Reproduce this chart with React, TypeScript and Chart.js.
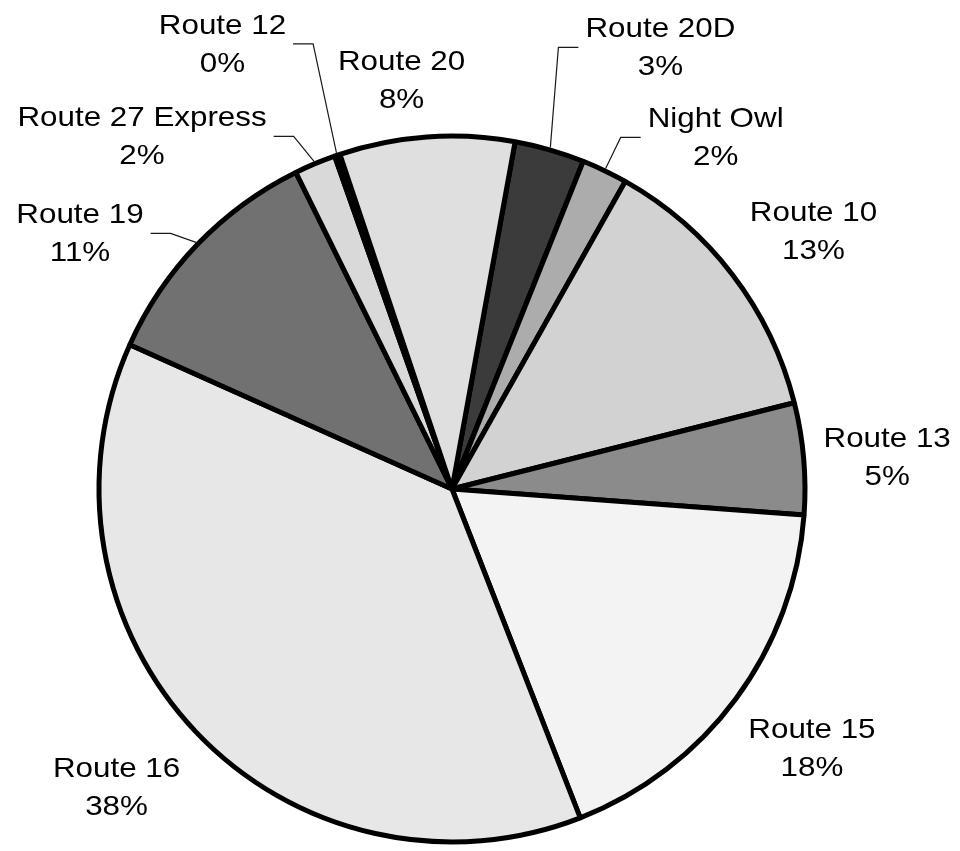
import { useEffect, useRef } from "react";
import { Chart, registerables } from "chart.js";

Chart.register(...registerables);

// Ridership share by route, listed clockwise starting just right of 12 o'clock
const routes = [
  "Route 20D",
  "Night Owl",
  "Route 10",
  "Route 13",
  "Route 15",
  "Route 16",
  "Route 19",
  "Route 27 Express",
  "Route 12",
  "Route 20",
];
const shares = [3.2, 2.1, 12.9, 5.1, 17.9, 37.6, 11.0, 1.9, 0.25, 8.0];
const sliceGrays = [
  "#3b3b3b",
  "#acacac",
  "#d2d2d2",
  "#8b8b8b",
  "#f3f3f3",
  "#e7e7e7",
  "#717171",
  "#d9d9d9",
  "#000000",
  "#dfdfdf",
];

// Where each label block sits relative to the outer middle of its slice
const labelPlacement = [
  { dx: 110, dy: -101, leader: true },
  { dx: 110, dy: -32, leader: true },
  { dx: 79, dy: -43, leader: false },
  { dx: 81, dy: -2, leader: false },
  { dx: 74, dy: 47, leader: false },
  { dx: -78, dy: 52, leader: false },
  { dx: -116, dy: -10, leader: true },
  { dx: -172, dy: -26, leader: true },
  { dx: -114, dy: -110, leader: true },
  { dx: -25, dy: -55, leader: false },
];

const BORDER = 5;
const FONT = "28px 'Liberation Sans', Arial, Helvetica, sans-serif";
const STRETCH = 1.12;

function drawStretched(ctx: CanvasRenderingContext2D, text: string, x: number, y: number) {
  ctx.save();
  ctx.translate(x, y);
  ctx.scale(STRETCH, 1);
  ctx.fillText(text, 0, 0);
  ctx.restore();
}

const sliceLabels = {
  id: "sliceLabels",
  afterDatasetsDraw(chart: Chart) {
    const ctx = chart.ctx;
    const meta = chart.getDatasetMeta(0);
    const total = shares.reduce((a, b) => a + b, 0);
    ctx.save();
    ctx.font = FONT;
    ctx.fillStyle = "#000";
    ctx.textAlign = "center";
    ctx.textBaseline = "alphabetic";
    meta.data.forEach((el: any, i: number) => {
      const { x, y, startAngle, endAngle, outerRadius } = el.getProps(
        ["x", "y", "startAngle", "endAngle", "outerRadius"],
        true
      );
      const mid = (startAngle + endAngle) / 2;
      const r = outerRadius + BORDER / 2;
      const px = x + Math.cos(mid) * r;
      const py = y + Math.sin(mid) * r;
      const p = labelPlacement[i];
      const cx = px + p.dx;
      const cy = py + p.dy;
      const pct = Math.round((shares[i] / total) * 100) + "%";
      drawStretched(ctx, routes[i], cx, cy - 9);
      drawStretched(ctx, pct, cx, cy + 29);
      if (p.leader) {
        const w = ctx.measureText(routes[i]).width * STRETCH;
        const side = p.dx > 0 ? -1 : 1;
        const edge = cx + (side * w) / 2;
        ctx.save();
        ctx.strokeStyle = "#1a1a1a";
        ctx.lineWidth = 1.2;
        ctx.beginPath();
        ctx.moveTo(px, py);
        ctx.lineTo(edge + side * 27, cy + 1);
        ctx.lineTo(edge + side * 7, cy + 1);
        ctx.stroke();
        ctx.restore();
      }
    });
    ctx.restore();
  },
};

export default function App() {
  const canvasRef = useRef<HTMLCanvasElement | null>(null);

  useEffect(() => {
    const canvas = canvasRef.current;
    if (!canvas) return;
    const chart = new Chart(canvas, {
      type: "pie",
      data: {
        labels: routes,
        datasets: [
          {
            data: shares,
            backgroundColor: sliceGrays,
            borderColor: "#000000",
            borderWidth: BORDER,
          },
        ],
      },
      options: {
        responsive: false,
        animation: false,
        events: [],
        rotation: 10.3,
        radius: 353,
        layout: { padding: { left: 0, right: 56, top: 127, bottom: 0 } },
        plugins: {
          legend: { display: false },
          tooltip: { enabled: false },
        },
      },
      plugins: [sliceLabels],
    });
    return () => chart.destroy();
  }, []);

  return (
    <div style={{ position: "fixed", left: 0, top: 0, width: 960, height: 851, background: "#fff" }}>
      <canvas ref={canvasRef} width={960} height={851} style={{ display: "block" }} />
    </div>
  );
}
